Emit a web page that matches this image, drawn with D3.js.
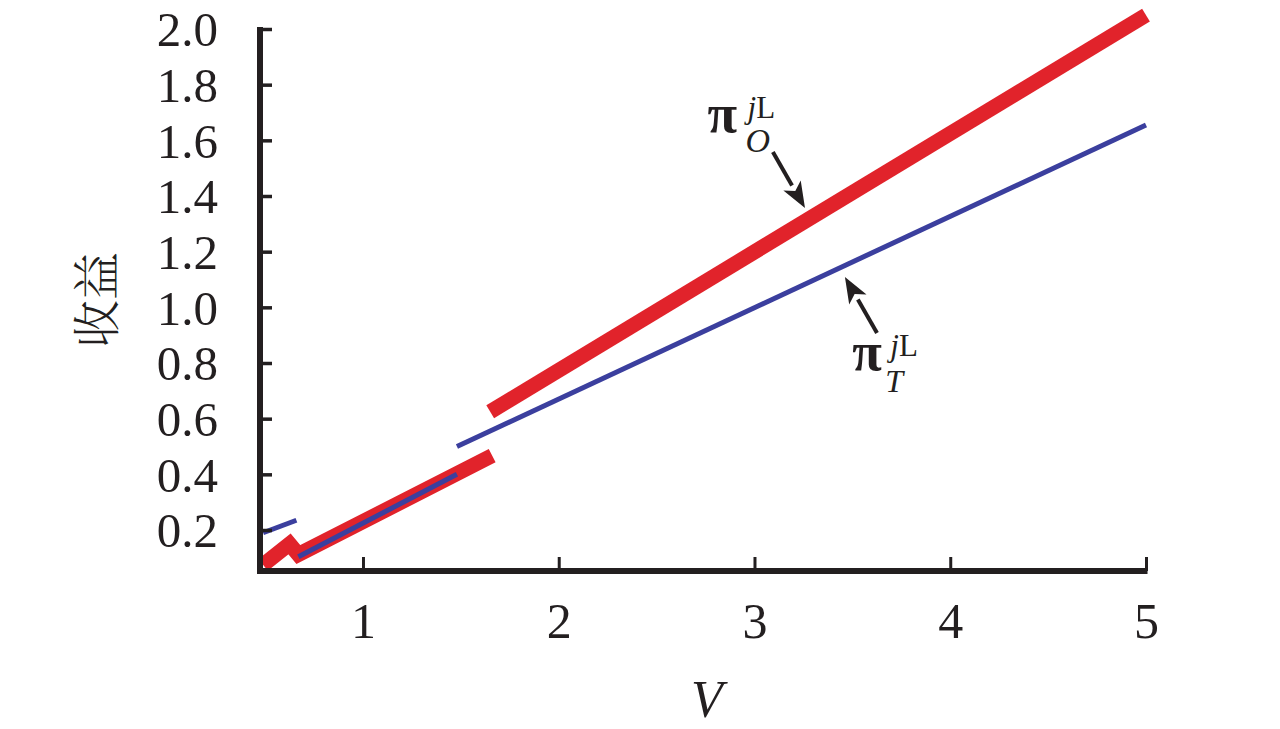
<!DOCTYPE html>
<html>
<head>
<meta charset="utf-8">
<script src="https://cdn.jsdelivr.net/npm/d3@7"></script>
<style>
  html, body { margin: 0; padding: 0; background: #fff; }
  svg { display: block; }
</style>
</head>
<body>
<svg id="chart" width="1280" height="729"></svg>
<script>
// ---- data ----
const xTicks = [1, 2, 3, 4, 5];
const yTicks = [0.2, 0.4, 0.6, 0.8, 1.0, 1.2, 1.4, 1.6, 1.8, 2.0];

// pi_O (red, thick)
const redSeg1V = [0.49, 0.625, 0.67, 1.66];
const redSeg1Y = [0.075, 0.15, 0.112, 0.467];
const redSeg2V = [1.65, 5.0];
const redSeg2Y = [0.625, 2.05];

// pi_T (blue, thin)
const blueSeg1V = [0.49, 0.66];
const blueSeg1Y = [0.19, 0.235];
const blueSeg2V = [0.67, 1.48];
const blueSeg2Y = [0.104, 0.40];
const blueSeg3V = [1.48, 5.0];
const blueSeg3Y = [0.50, 1.655];

// annotations (data coords): label anchor, arrow tail, arrow tip
const annO = { label: [2.76, 1.63], tail: [3.094, 1.558], tip: [3.258, 1.357] };
const annT = { label: [3.50, 0.775], tail: [3.626, 0.908], tip: [3.462, 1.109] };

// ---- scales ----
const svg = d3.select("#chart");
const x = d3.scaleLinear().domain([0.474, 5]).range([260, 1146]);
const y = d3.scaleLinear().domain([0.2, 2.0]).range([530, 29]);
const yBottom = 571;

const serif = "'Liberation Serif', 'Times New Roman', Times, serif";

// ---- lines ----
const line = d3.line().x(d => x(d[0])).y(d => y(d[1]));
const zip = (a, b) => a.map((v, i) => [v, b[i]]);

const red = "#e1232b", blue = "#3b3f9e";
[[redSeg1V, redSeg1Y], [redSeg2V, redSeg2Y]].forEach(([a, b]) => {
  svg.append("path").attr("d", line(zip(a, b)))
    .attr("fill", "none").attr("stroke", red).attr("stroke-width", 15)
    .attr("stroke-linejoin", "miter").attr("stroke-linecap", "butt");
});
[[blueSeg1V, blueSeg1Y], [blueSeg2V, blueSeg2Y], [blueSeg3V, blueSeg3Y]].forEach(([a, b]) => {
  svg.append("path").attr("d", line(zip(a, b)))
    .attr("fill", "none").attr("stroke", blue).attr("stroke-width", 5)
    .attr("stroke-linecap", "butt");
});

// ---- axes ----
const yAxis = d3.axisLeft(y).tickValues(yTicks).tickFormat(d3.format(".1f"))
  .tickSizeInner(-12).tickSizeOuter(0).tickPadding(42);
const gy = svg.append("g").attr("transform", `translate(${x.range()[0]},0)`).call(yAxis);
gy.select(".domain").remove();
gy.selectAll(".tick line").attr("stroke", "#231f20").attr("stroke-width", 3.5);
gy.selectAll(".tick text").attr("font-family", serif).attr("font-size", 49)
  .attr("fill", "#231f20").attr("dy", "0.34em");

const xAxis = d3.axisBottom(x).tickValues(xTicks).tickFormat(d3.format("d"))
  .tickSizeInner(-14).tickSizeOuter(0).tickPadding(62);
const gx = svg.append("g").attr("transform", `translate(0,${yBottom})`).call(xAxis);
gx.select(".domain").remove();
gx.selectAll(".tick line").attr("stroke", "#231f20").attr("stroke-width", 3);
gx.selectAll(".tick text").attr("font-family", serif).attr("font-size", 50)
  .attr("fill", "#231f20").attr("dy", "0.1em");

// axis lines
svg.append("line").attr("x1", x.range()[0]).attr("x2", x.range()[0])
  .attr("y1", y(2.0) - 2).attr("y2", yBottom + 3)
  .attr("stroke", "#231f20").attr("stroke-width", 6);
svg.append("line").attr("x1", x.range()[0] - 3).attr("x2", x(5) + 1.5)
  .attr("y1", yBottom).attr("y2", yBottom)
  .attr("stroke", "#231f20").attr("stroke-width", 6);

// axis titles
svg.append("text").attr("x", 707).attr("y", 717).attr("text-anchor", "middle")
  .attr("font-family", serif).attr("font-style", "italic").attr("font-size", 52)
  .attr("fill", "#231f20").text("V");
svg.append("text").attr("transform", "translate(114,300) rotate(-90)")
  .attr("text-anchor", "middle")
  .attr("font-family", "'Noto Serif CJK SC', 'Noto Sans CJK SC', serif")
  .attr("font-weight", 300).attr("font-size", 48)
  .attr("fill", "#231f20").text("收益");

// ---- annotations ----
function annotate(a, sub, supDx, supDy, subDx, subDy, subSize) {
  const lx = x(a.label[0]), ly = y(a.label[1]);
  svg.append("text").attr("font-family", serif).attr("fill", "#231f20")
    .attr("x", lx).attr("y", ly).attr("font-size", 54)
    .attr("font-weight", "bold").text("π");
  const sup = svg.append("text").attr("font-family", serif).attr("fill", "#231f20")
    .attr("x", lx + supDx).attr("y", ly + supDy).attr("font-size", 31);
  sup.append("tspan").attr("font-style", "italic").text("j");
  sup.append("tspan").text("L");
  svg.append("text").attr("font-family", serif).attr("fill", "#231f20")
    .attr("font-style", "italic").attr("font-size", subSize)
    .attr("x", lx + subDx).attr("y", ly + subDy).text(sub);

  // arrow
  const x1 = x(a.tail[0]), y1 = y(a.tail[1]), x2 = x(a.tip[0]), y2 = y(a.tip[1]);
  const ang = Math.atan2(y2 - y1, x2 - x1);
  const hl = 26, hw = 10;
  const bx = x2 - hl * Math.cos(ang), by = y2 - hl * Math.sin(ang);
  svg.append("line").attr("x1", x1).attr("y1", y1).attr("x2", bx).attr("y2", by)
    .attr("stroke", "#231f20").attr("stroke-width", 4);
  const px = -Math.sin(ang), py = Math.cos(ang);
  svg.append("path")
    .attr("d", `M${x2},${y2} L${bx + px * hw},${by + py * hw} L${bx + hl * 0.25 * Math.cos(ang)},${by + hl * 0.25 * Math.sin(ang)} L${bx - px * hw},${by - py * hw} Z`)
    .attr("fill", "#231f20");
}
annotate(annO, "O", 40, -14, 38, 20, 34);
annotate(annT, "T", 38, -14, 33, 22, 32);
</script>
</body>
</html>
